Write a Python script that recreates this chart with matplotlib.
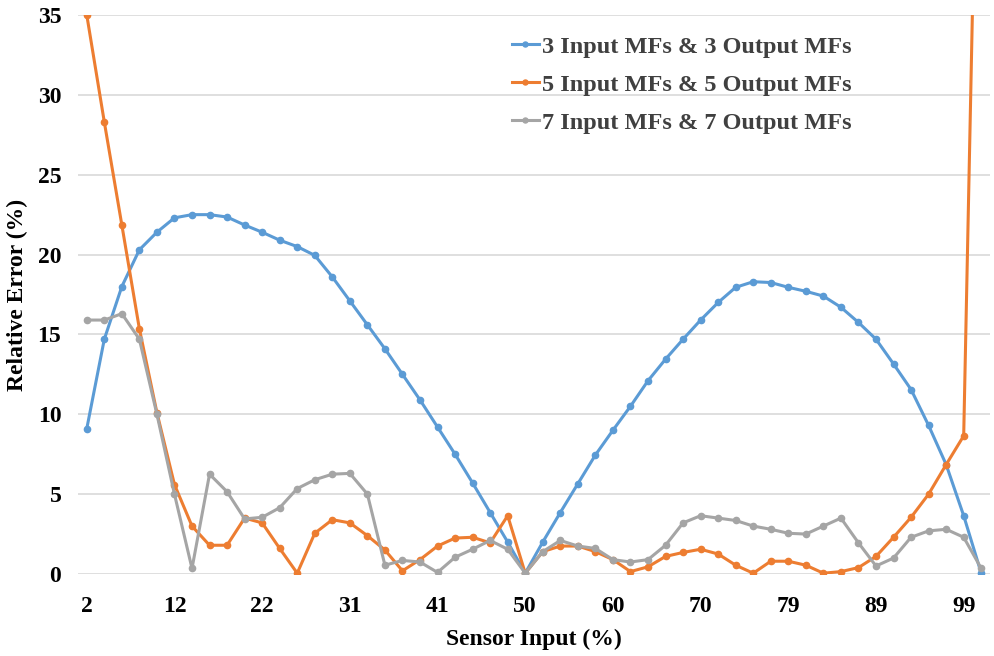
import matplotlib
matplotlib.use("Agg")
import matplotlib.pyplot as plt

# sensor input labels shown under every 5th point (52 points in total)
tick_index = [0, 5, 10, 15, 20, 25, 30, 35, 40, 45, 50]
tick_labels = ['2', '12', '22', '31', '41', '50', '60', '70', '79', '89', '99']

series_names = ['3 Input MFs & 3 Output MFs', '5 Input MFs & 5 Output MFs', '7 Input MFs & 7 Output MFs']

err_3mf = [9.1, 14.7, 18.0, 20.3, 21.4, 22.3, 22.5, 22.5, 22.35, 21.85, 21.4, 20.9, 20.5, 19.95, 18.6,
           17.1, 15.6, 14.1, 12.5, 10.9, 9.2, 7.5, 5.7, 3.85, 2.0, 0.05,
           2.0, 3.85, 5.65, 7.45, 9.0, 10.5, 12.1, 13.45, 14.7, 15.9, 17.0, 17.95, 18.3, 18.25, 17.95,
           17.7, 17.4, 16.7, 15.75, 14.7, 13.15, 11.55, 9.3, 6.85, 3.65, 0.05]
err_5mf = [35.0, 28.3, 21.85, 15.35, 10.1, 5.6, 3.0, 1.8, 1.8, 3.5, 3.2, 1.6, 0.05, 2.55, 3.4,
           3.2, 2.4, 1.5, 0.2, 0.9, 1.75, 2.25, 2.3, 1.95, 3.65, 0.05,
           1.4, 1.75, 1.75, 1.4, 0.9, 0.15, 0.45, 1.1, 1.35, 1.55, 1.25, 0.55, 0.05, 0.8, 0.8,
           0.55, 0.05, 0.15, 0.4, 1.1, 2.3, 3.55, 5.0, 6.85, 8.65, 62.0]
err_7mf = [15.9, 15.9, 16.3, 14.7, 10.0, 5.0, 0.35, 6.25, 5.15, 3.45, 3.55, 4.15, 5.35, 5.9, 6.25,
           6.3, 5.0, 0.55, 0.85, 0.75, 0.1, 1.05, 1.55, 2.1, 1.55, 0.05,
           1.4, 2.1, 1.75, 1.6, 0.9, 0.75, 0.9, 1.8, 3.2, 3.65, 3.5, 3.35, 3.0, 2.8, 2.55,
           2.5, 3.0, 3.5, 1.95, 0.5, 1.0, 2.3, 2.7, 2.8, 2.3, 0.35]

colors = ['#5B9BD5', '#ED7D31', '#A5A5A5']

plt.rcParams['font.family'] = ['Liberation Serif', 'DejaVu Serif']
plt.rcParams['font.weight'] = 'bold'

fig = plt.figure(figsize=(9.95, 6.56), dpi=100)
ax = fig.add_axes([78 / 995, 1 - 574 / 656, 912 / 995, 559 / 656])

x = list(range(len(err_3mf)))
for vals, name, c in zip([err_3mf, err_5mf, err_7mf], series_names, colors):
    ax.plot(x, vals, color=c, lw=2.2, marker='o', markersize=4.5, label=name)

ax.set_xlim(-0.5, len(x) - 0.5)
ax.set_ylim(0, 35)
ax.set_yticks([0, 5, 10, 15, 20, 25, 30, 35])
ax.set_xticks(tick_index)
ax.set_xticklabels(tick_labels)
ax.tick_params(axis='both', length=0, labelsize=17)
ax.tick_params(axis='x', pad=16)
ax.tick_params(axis='y', pad=12)

ax.grid(axis='y', color='#D9D9D9', lw=1.2)
ax.set_axisbelow(True)
for s in ax.spines.values():
    s.set_visible(False)

ax.set_xlabel('Sensor Input (%)', fontsize=17, fontweight='bold', labelpad=8)
ax.set_ylabel('Relative Error (%)', fontsize=17, fontweight='bold', labelpad=7)

leg = ax.legend(loc='upper left', bbox_to_anchor=(0.476, 0.963), frameon=False, fontsize=17.5,
                handlelength=1.1, handletextpad=0.15, borderpad=0, borderaxespad=0,
                labelspacing=0.66, markerscale=0.8)
for t in leg.get_texts():
    t.set_color('#404040')

fig.savefig('out.png', dpi=100)
